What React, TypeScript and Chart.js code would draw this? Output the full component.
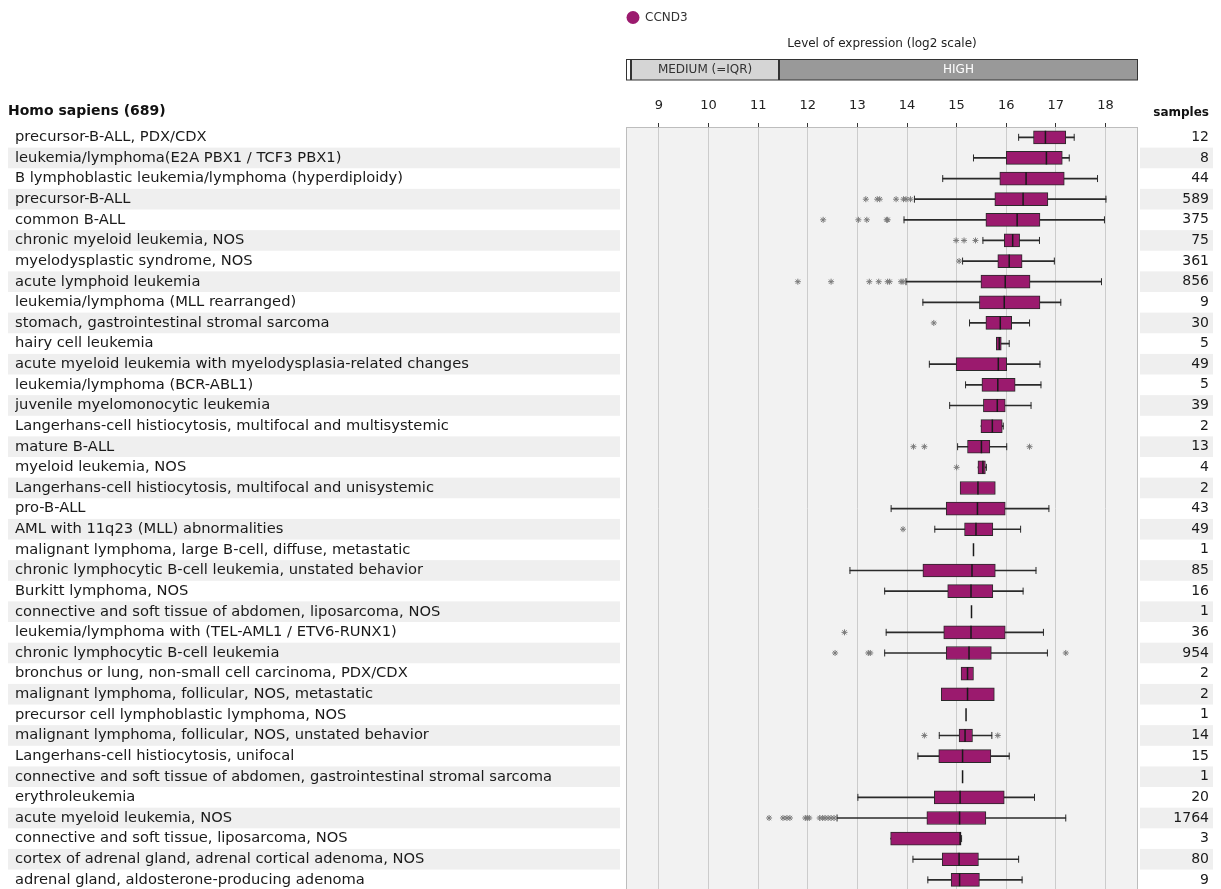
import React, { useEffect, useRef } from 'react';
import { Chart, registerables } from 'chart.js';

Chart.register(...registerables);

const GENE = 'CCND3';
const GROUP_TITLE = 'Homo sapiens (689)';
const AXIS_TITLE = 'Level of expression (log2 scale)';
const SAMPLES_TITLE = 'samples';

const CATEGORIES = [
  'precursor-B-ALL, PDX/CDX',
  'leukemia/lymphoma(E2A PBX1 / TCF3 PBX1)',
  'B lymphoblastic leukemia/lymphoma (hyperdiploidy)',
  'precursor-B-ALL',
  'common B-ALL',
  'chronic myeloid leukemia, NOS',
  'myelodysplastic syndrome, NOS',
  'acute lymphoid leukemia',
  'leukemia/lymphoma (MLL rearranged)',
  'stomach, gastrointestinal stromal sarcoma',
  'hairy cell leukemia',
  'acute myeloid leukemia with myelodysplasia-related changes',
  'leukemia/lymphoma (BCR-ABL1)',
  'juvenile myelomonocytic leukemia',
  'Langerhans-cell histiocytosis, multifocal and multisystemic',
  'mature B-ALL',
  'myeloid leukemia, NOS',
  'Langerhans-cell histiocytosis, multifocal and unisystemic',
  'pro-B-ALL',
  'AML with 11q23 (MLL) abnormalities',
  'malignant lymphoma, large B-cell, diffuse, metastatic',
  'chronic lymphocytic B-cell leukemia, unstated behavior',
  'Burkitt lymphoma, NOS',
  'connective and soft tissue of abdomen, liposarcoma, NOS',
  'leukemia/lymphoma with (TEL-AML1 / ETV6-RUNX1)',
  'chronic lymphocytic B-cell leukemia',
  'bronchus or lung, non-small cell carcinoma, PDX/CDX',
  'malignant lymphoma, follicular, NOS, metastatic',
  'precursor cell lymphoblastic lymphoma, NOS',
  'malignant lymphoma, follicular, NOS, unstated behavior',
  'Langerhans-cell histiocytosis, unifocal',
  'connective and soft tissue of abdomen, gastrointestinal stromal sarcoma',
  'erythroleukemia',
  'acute myeloid leukemia, NOS',
  'connective and soft tissue, liposarcoma, NOS',
  'cortex of adrenal gland, adrenal cortical adenoma, NOS',
  'adrenal gland, aldosterone-producing adenoma',
];

const SAMPLES = [12, 8, 44, 589, 375, 75, 361, 856, 9, 30, 5, 49, 5, 39, 2, 13, 4, 2, 43, 49, 1, 85, 16, 1, 36, 954, 2, 2, 1, 14, 15, 1, 20, 1764, 3, 80, 9];

const WHISKER_LOW = [16.25, 15.34, 14.72, 14.15, 13.94, 15.53, 15.12, 13.98, 14.32, 15.26, null, 14.45, 15.18, 14.86, null, 15.02, null, null, 13.68, 14.56, null, 12.85, 13.55, null, 13.58, 13.55, null, null, null, 14.65, 14.22, null, 13.01, 12.59, null, 14.12, 14.42];
const Q1 = [16.55, 16.0, 15.87, 15.77, 15.59, 15.96, 15.83, 15.49, 15.46, 15.59, 15.8, 14.99, 15.51, 15.54, 15.49, 15.22, 15.43, 15.07, 14.79, 15.16, null, 14.32, 14.82, null, 14.74, 14.79, 15.09, 14.69, null, 15.05, 14.64, null, 14.55, 14.4, 13.67, 14.71, 14.89];
const MEDIAN = [16.79, 16.81, 16.4, 16.34, 16.22, 16.13, 16.06, 15.98, 15.96, 15.88, 15.86, 15.84, 15.83, 15.82, 15.72, 15.5, 15.53, 15.43, 15.42, 15.39, 15.34, 15.31, 15.29, 15.3, 15.29, 15.25, 15.22, 15.22, 15.19, 15.17, 15.12, 15.12, 15.07, 15.06, 15.07, 15.05, 15.06];
const Q3 = [17.2, 17.13, 17.17, 16.84, 16.68, 16.27, 16.32, 16.48, 16.68, 16.11, 15.9, 16.01, 16.18, 15.98, 15.92, 15.67, 15.58, 15.78, 15.98, 15.73, null, 15.78, 15.73, null, 15.98, 15.7, 15.34, 15.76, null, 15.32, 15.69, null, 15.96, 15.59, 15.09, 15.44, 15.46];
const WHISKER_HIGH = [17.37, 17.27, 17.84, 18.01, 17.98, 16.67, 16.97, 17.92, 17.1, 16.47, 16.06, 16.68, 16.7, 16.5, 15.94, 16.01, 15.6, null, 16.86, 16.29, null, 16.6, 16.34, null, 16.75, 16.83, null, null, null, 15.71, 16.06, null, 16.57, 17.2, 15.1, 16.25, 16.32];
const OUTLIERS: number[][] = [
  [], [], [],
  [13.17, 13.4, 13.45, 13.78, 13.93, 13.98, 14.07],
  [12.31, 13.02, 13.19, 13.59, 13.61],
  [14.99, 15.15, 15.38],
  [15.05],
  [11.8, 12.47, 13.24, 13.43, 13.61, 13.65, 13.88, 13.92],
  [],
  [14.54],
  [], [], [], [], [],
  [14.13, 14.35, 16.47],
  [15.0],
  [], [],
  [13.92],
  [], [], [], [],
  [12.74],
  [12.55, 13.22, 13.26, 17.2],
  [], [], [],
  [14.35, 15.83],
  [], [], [],
  [11.22, 11.5, 11.58, 11.64, 11.95, 11.99, 12.03, 12.24, 12.3, 12.35, 12.41, 12.47, 12.53],
  [], [], [],
];

const X_TICKS = [9, 10, 11, 12, 13, 14, 15, 16, 17, 18];
const X_MIN = 8.336;
const X_MAX = 18.656;
const LEVEL_LABELS = ['', 'MEDIUM (=IQR)', 'HIGH'];
const LEVEL_EDGES = [X_MIN, 8.44, 11.42, X_MAX];

const PURPLE = '#9b1a6e';
const FONT = 'DejaVu Sans';

const decorPlugin = {
  id: 'decor',
  beforeDraw(chart: any) {
    const { ctx, chartArea: a, scales } = chart;
    const y = scales.y;
    const n = CATEGORIES.length;
    const rowH = (a.bottom - a.top) / n;
    ctx.save();
    ctx.fillStyle = '#ffffff';
    ctx.fillRect(0, 0, chart.width, chart.height);
    for (let i = 0; i < n; i++) {
      if (i % 2 === 1) {
        const cy = y.getPixelForValue(i);
        ctx.fillStyle = '#efefef';
        ctx.fillRect(8, cy - rowH / 2, a.left - 6 - 8, rowH);
        ctx.fillRect(a.right + 2, cy - rowH / 2, 1213 - a.right - 2, rowH);
      }
    }
    ctx.fillStyle = '#f2f2f2';
    ctx.fillRect(a.left, a.top, a.right - a.left, a.bottom - a.top + 4);
    ctx.restore();
  },
  beforeDatasetsDraw(chart: any) {
    const { ctx, chartArea: a } = chart;
    ctx.save();
    ctx.strokeStyle = '#bdbdbd';
    ctx.lineWidth = 1;
    ctx.strokeRect(Math.round(a.left) + 0.5, Math.round(a.top) + 0.5, a.right - a.left - 1, a.bottom - a.top + 6);
    ctx.restore();
  },
  afterDraw(chart: any) {
    const { ctx, chartArea: a, scales } = chart;
    const x = scales.x;
    ctx.save();
    // legend
    const ds = chart.data.datasets[1];
    ctx.fillStyle = ds.backgroundColor;
    ctx.beginPath();
    ctx.arc(a.left + 7, 17.5, 6.5, 0, Math.PI * 2);
    ctx.fill();
    ctx.fillStyle = '#333';
    ctx.font = `12px "${FONT}"`;
    ctx.textBaseline = 'middle';
    ctx.textAlign = 'left';
    ctx.fillText(ds.label, a.left + 19, 17.5);
    // axis title
    ctx.textAlign = 'center';
    ctx.fillStyle = '#222';
    ctx.fillText(AXIS_TITLE, (a.left + a.right) / 2, 44);
    // level bar
    const fills = ['#ffffff', '#d5d5d5', '#999999'];
    const txt = ['#333', '#333', '#ffffff'];
    for (let i = 0; i < LEVEL_LABELS.length; i++) {
      const x0 = x.getPixelForValue(LEVEL_EDGES[i]);
      const x1 = x.getPixelForValue(LEVEL_EDGES[i + 1]);
      ctx.fillStyle = fills[i];
      ctx.fillRect(x0, 59.5, x1 - x0, 20.5);
      ctx.strokeStyle = '#333';
      ctx.lineWidth = 1;
      ctx.strokeRect(Math.round(x0) + 0.5, 59.5, Math.round(x1) - Math.round(x0) - 1, 20.5);
      if (LEVEL_LABELS[i]) {
        ctx.fillStyle = txt[i];
        ctx.fillText(LEVEL_LABELS[i], (x0 + x1) / 2, 70);
      }
    }
    // headers
    ctx.fillStyle = '#111';
    ctx.font = `bold 14px "${FONT}"`;
    ctx.textAlign = 'left';
    ctx.fillText(GROUP_TITLE, 8, 111.5);
    ctx.font = `bold 12px "${FONT}"`;
    ctx.textAlign = 'right';
    ctx.fillText(SAMPLES_TITLE, 1209, 113);
    ctx.restore();
  },
};

export default function App() {
  const ref = useRef<HTMLCanvasElement>(null);
  useEffect(() => {
    if (!ref.current) return;
    const boxData = CATEGORIES.map((_, i) => (Q1[i] != null && Q3[i] != null ? [Q1[i], Q3[i]] : null));
    const whiskerData = CATEGORIES.map((_, i) => {
      const lo = WHISKER_LOW[i] ?? Q1[i];
      const hi = WHISKER_HIGH[i] ?? Q3[i];
      return lo != null && hi != null && (WHISKER_LOW[i] != null || WHISKER_HIGH[i] != null) ? [lo, hi] : null;
    });
    const capData: any[] = [];
    CATEGORIES.forEach((c, i) => {
      if (WHISKER_LOW[i] != null) capData.push({ x: WHISKER_LOW[i], y: c });
      if (WHISKER_HIGH[i] != null) capData.push({ x: WHISKER_HIGH[i], y: c });
    });
    const medianData = CATEGORIES.map((c, i) => ({ x: MEDIAN[i], y: c }));
    const outlierData: any[] = [];
    OUTLIERS.forEach((vals, i) => vals.forEach((v) => outlierData.push({ x: v, y: CATEGORIES[i] })));

    const chart = new Chart(ref.current, {
      type: 'bar',
      data: {
        labels: CATEGORIES,
        datasets: [
          {
            type: 'bar',
            label: 'whiskers',
            data: whiskerData as any,
            backgroundColor: '#2a2a2a',
            borderWidth: 0,
            barThickness: 1,
            grouped: false,
            order: 4,
          } as any,
          {
            type: 'bar',
            label: GENE,
            data: boxData as any,
            backgroundColor: PURPLE,
            borderColor: '#2a2a2a',
            borderWidth: 1,
            borderSkipped: false,
            barThickness: 13,
            grouped: false,
            order: 3,
          } as any,
          {
            type: 'scatter',
            label: 'caps',
            data: capData,
            pointStyle: 'line',
            rotation: 90,
            radius: 3.5,
            borderColor: '#2a2a2a',
            borderWidth: 1,
            order: 2,
          } as any,
          {
            type: 'scatter',
            label: 'median',
            data: medianData,
            pointStyle: 'line',
            rotation: 90,
            radius: 6.5,
            borderColor: '#1a1a1a',
            borderWidth: 1.5,
            order: 1,
          } as any,
          {
            type: 'scatter',
            label: 'outliers',
            data: outlierData,
            pointStyle: 'star',
            radius: 3,
            borderColor: '#7a7a7a',
            borderWidth: 1,
            order: 0,
          } as any,
        ],
      },
      options: {
        indexAxis: 'y',
        responsive: false,
        animation: false,
        events: [],
        layout: { padding: { left: 15, right: 12, top: 0, bottom: 0 } },
        plugins: { legend: { display: false }, tooltip: { enabled: false } },
        scales: {
          x: {
            type: 'linear',
            position: 'top',
            min: X_MIN,
            max: X_MAX,
            afterBuildTicks: (s: any) => {
              s.ticks = X_TICKS.map((v) => ({ value: v }));
            },
            afterFit: (s: any) => {
              s.height = 127;
            },
            grid: { color: '#cccccc', tickColor: '#333333', tickLength: 4, lineWidth: 1 },
            border: { display: false },
            ticks: { color: '#222', padding: 10, font: { family: FONT, size: 13 } },
          },
          y: {
            type: 'category',
            position: 'left',
            labels: CATEGORIES,
            offset: true,
            grid: { display: false, offset: true },
            border: { display: false },
            afterFit: (s: any) => {
              s.width = 611;
            },
            ticks: { autoSkip: false, crossAlign: 'far', padding: 0, color: '#1a1a1a', font: { family: FONT, size: 14.7 } },
          },
          y2: {
            type: 'category',
            position: 'right',
            labels: SAMPLES.map(String),
            offset: true,
            grid: { display: false, offset: true },
            border: { display: false },
            afterFit: (s: any) => {
              s.width = 71;
            },
            ticks: { autoSkip: false, crossAlign: 'far', padding: 0, color: '#1a1a1a', font: { family: FONT, size: 14 } },
          },
        },
      } as any,
      plugins: [decorPlugin],
    });
    return () => chart.destroy();
  }, []);

  return (
    <div style={{ position: 'absolute', left: 0, top: 0, width: 1221, height: 889, overflow: 'hidden', background: '#fff' }}>
      <canvas ref={ref} width={1221} height={899} style={{ display: 'block' }} />
    </div>
  );
}
